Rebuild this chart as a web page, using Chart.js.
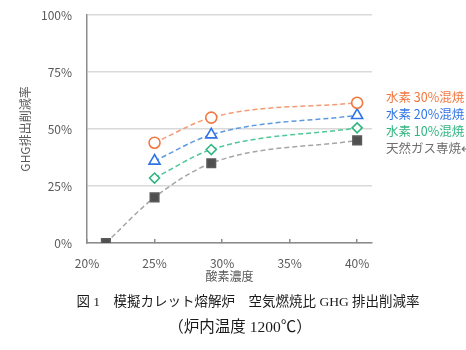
<!DOCTYPE html>
<html>
<head>
<meta charset="utf-8">
<script src="https://cdn.jsdelivr.net/npm/chart.js@4"></script>
<style>
  body { margin: 0; background: #fff; }
  canvas { display: block; }
</style>
</head>
<body>
<canvas id="ghgChart" width="466" height="350"></canvas>
<script>
/* ================= DATA ================= */

// 酸素濃度 (%)
const gasX = [21.4, 25, 29.2, 40];
const h2X = [25, 29.2, 40];

// GHG排出削減率 (%)
const gasOnly = [0, 20, 35, 45];
const h2Mix10 = [28.5, 41, 50.5];
const h2Mix20 = [36, 47.5, 56];
const h2Mix30 = [44, 55, 61.5];

const yTicks = [0, 25, 50, 75, 100];
const xTicks = [20, 25, 30, 35, 40];

const seriesNames = ["水素 30%混焼", "水素 20%混焼", "水素 10%混焼", "天然ガス専焼↵"];
const captionLines = ["図 1　模擬カレット熔解炉　空気燃焼比 GHG 排出削減率", "（炉内温度 1200℃）"];

/* ================= HELPERS ================= */

const sansFont = "'Noto Sans CJK JP', 'Noto Sans', sans-serif";
const serifFont = "'Liberation Serif', 'Noto Sans CJK JP', serif";

function points(xs, ys) {
    return xs.map((x, i) => ({ x: x, y: ys[i] }));
}

function series(name, xs, ys, lineColor, markColor, style, radius, fill) {
    return {
        label: name,
        data: points(xs, ys),
        borderColor: lineColor,
        borderWidth: 1.5,
        borderDash: [5, 3],
        cubicInterpolationMode: "monotone",
        pointStyle: style,
        pointRadius: radius,
        pointBorderColor: markColor,
        pointBackgroundColor: fill,
        pointBorderWidth: 1.6
    };
}

const textColors = ["#f2773f", "#2f74e6", "#2fb57f", "#6e6e6e"];

// series names to the right of the plot, figure caption underneath
const annotations = {
    id: "annotations",
    afterDraw(chart) {
        const ctx = chart.ctx;
        const area = chart.chartArea;
        ctx.save();
        ctx.font = "12.5px " + sansFont;
        ctx.textAlign = "left";
        ctx.textBaseline = "middle";
        seriesNames.forEach((name, i) => {
            ctx.fillStyle = textColors[i];
            ctx.fillText(name, area.right + 14, area.top + 82 + i * 17.2);
        });

        ctx.fillStyle = "#1a1a1a";
        ctx.textAlign = "center";
        ctx.font = "13.5px " + serifFont;
        ctx.fillText(captionLines[0], 248, 302);
        ctx.font = "15.5px " + serifFont;
        ctx.fillText(captionLines[1], 240, 328);
        ctx.restore();
    }
};

/* ================= CHART ================= */

const ctx = document.getElementById("ghgChart").getContext("2d");

new Chart(ctx, {
    type: "line",
    data: {
        datasets: [
            series(seriesNames[0], h2X, h2Mix30, "#f59a74", "#f2773f", "circle", 5.5, "#ffffff"),
            series(seriesNames[1], h2X, h2Mix20, "#5c9ae0", "#2f74e6", "triangle", 6.4, "#ffffff"),
            series(seriesNames[2], h2X, h2Mix10, "#4fc798", "#2fb57f", "rectRot", 5, "#ffffff"),
            series(seriesNames[3], gasX, gasOnly, "#a6a6a6", "#5a5a5a", "rect", 6, "#4f4f4f")
        ]
    },
    options: {
        responsive: false,
        devicePixelRatio: 1,
        animation: false,
        layout: {
            padding: { left: 0, right: 94, top: 15, bottom: 63 }
        },
        plugins: {
            legend: { display: false },
            tooltip: { enabled: false }
        },
        scales: {
            x: {
                type: "linear",
                min: 20,
                max: 41.1,
                afterBuildTicks: (axis) => {
                    axis.ticks = xTicks.map(v => ({ value: v }));
                },
                afterFit: (axis) => {
                    axis.height = 44;
                },
                ticks: {
                    padding: 17,
                    color: "#595959",
                    font: { family: sansFont, size: 12 },
                    callback: (v) => v + "%"
                },
                grid: {
                    drawOnChartArea: false,
                    drawTicks: true,
                    tickLength: -4,
                    color: "#8c8c8c",
                    lineWidth: 1.5
                },
                border: { color: "#8c8c8c", width: 1.5 },
                title: {
                    display: true,
                    text: "酸素濃度",
                    color: "#595959",
                    font: { family: sansFont, size: 12 },
                    padding: { top: 0, bottom: 3 }
                }
            },
            y: {
                min: 0,
                max: 100,
                afterBuildTicks: (axis) => {
                    axis.ticks = yTicks.map(v => ({ value: v }));
                },
                afterFit: (axis) => {
                    axis.width = 87;
                },
                ticks: {
                    padding: 0,
                    color: "#595959",
                    font: { family: sansFont, size: 12 },
                    callback: (v) => v + "%"
                },
                grid: {
                    drawTicks: true,
                    tickLength: 15,
                    tickColor: "transparent",
                    color: "#d9d9d9",
                    lineWidth: 1.5
                },
                border: { color: "#8c8c8c", width: 1.5 },
                title: {
                    display: true,
                    text: "GHG排出削減率",
                    color: "#595959",
                    font: { family: sansFont, size: 12 },
                    padding: { top: 18, bottom: 0 }
                }
            }
        }
    },
    plugins: [annotations]
});
</script>
</body>
</html>
